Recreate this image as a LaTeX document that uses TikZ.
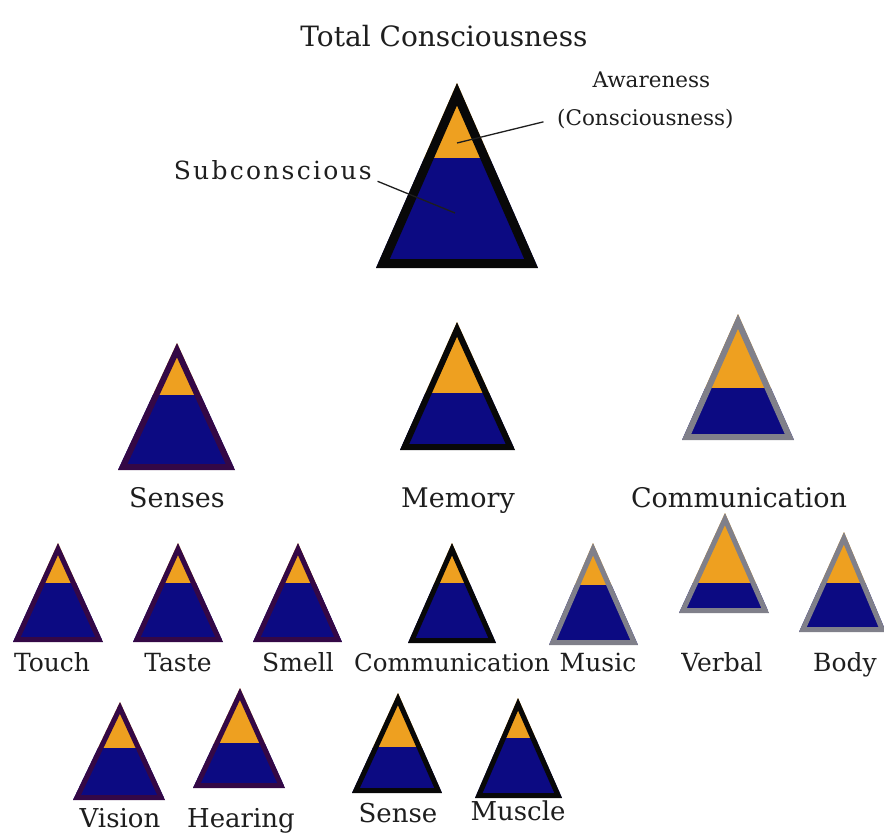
\documentclass[tikz,border=0pt]{standalone}
\usepackage{fontspec}
\setmainfont{DejaVu Serif}
\newfontfamily\spacedfont[LetterSpace=9]{DejaVu Serif}
\definecolor{navyC}{RGB}{12,10,130}
\definecolor{orangeC}{RGB}{238,160,32}
\definecolor{purpC}{RGB}{52,8,70}
\definecolor{grayC}{RGB}{128,128,138}
\definecolor{blackC}{RGB}{8,8,8}
\definecolor{textC}{RGB}{30,30,30}
% #1 apex x, #2 apex y, #3 base y, #4 left x, #5 right x, #6 split y, #7 border colour, #8 border width
\newcommand{\pyr}[8]{%
  \begin{scope}
    \clip (#4,#3) -- (#1,#2) -- (#5,#3) -- cycle;
    \fill[orangeC] (#4,#2) rectangle (#5,#6);
    \fill[navyC] (#4,#6) rectangle (#5,#3);
    \draw[#7, line width=2*#8, line join=miter] (#4,#3) -- (#1,#2) -- (#5,#3) -- cycle;
  \end{scope}}
\tikzset{
  lbl/.style={font=\fontsize{#1}{#1}\selectfont, text=textC, inner sep=0pt, anchor=base},
  lbl/.default=26,
  ttl/.style={font=\fontsize{28}{32}\selectfont, text=textC, inner sep=0pt, anchor=base},
  note/.style={font=\fontsize{21.5}{25}\selectfont, text=textC, inner sep=0pt},
  leader/.style={draw=textC, line width=1.3pt}
}
\begin{document}
\begin{tikzpicture}[x=1pt,y=-1pt]
\useasboundingbox (0,0) rectangle (884,836);
\fill[white] (0,0) rectangle (884,836);
% top pyramid
\pyr{457}{83}{268}{376}{538}{158}{blackC}{9}
\node[ttl] (title) at (444,46) {Total Consciousness};
\node[note, anchor=base west] (cons) at (557,125) {(Consciousness)};
\node[note, anchor=base] (aw) at ([xshift=6pt]cons.center |- 0,87) {Awareness};
\node[note, anchor=base east, font=\fontsize{25}{29}\spacedfont] (sub) at (372,179) {Subconscious};
\coordinate (awpt) at (457,143);
\coordinate (subpt) at (455,213);
\draw[leader, shorten <=14pt] (cons.west) -- (awpt);
\draw[leader, shorten <=6pt] (sub.base east) -- (subpt);
% row 1
\pyr{177}{343}{470}{118}{235}{395}{purpC}{6}
\pyr{457}{322}{450}{400}{515}{393}{blackC}{6}
\pyr{738}{314}{440}{682}{794}{388}{grayC}{6}
\node[lbl=27] (senses) at (177,507) {Senses};
\node[lbl=27] (memory) at (458,507) {Memory};
\node[lbl=27] (comm1) at (739,507) {Communication};
% row 2
\pyr{58}{543}{642}{13}{103}{583}{purpC}{5}
\pyr{178}{543}{642}{133}{223}{583}{purpC}{5}
\pyr{298}{543}{642}{253}{342}{583}{purpC}{5}
\pyr{452}{543}{643}{408}{496}{583}{blackC}{5}
\pyr{593}{543}{645}{549}{638}{585}{grayC}{5}
\pyr{725}{513}{613}{679}{769}{583}{grayC}{5}
\pyr{844}{532}{632}{799}{886}{583}{grayC}{5}
\node[lbl=25] (touch) at (52,671) {Touch};
\node[lbl=25] (taste) at (178,671) {Taste};
\node[lbl=25] (smell) at (298,671) {Smell};
\node[lbl=24.5] (comm2) at (452,671) {Communication};
\node[lbl=25] (music) at (598,671) {Music};
\node[lbl=25] (verbal) at (722,671) {Verbal};
\node[lbl=25] (body) at (845,671) {Body};
% row 3
\pyr{120}{702}{800}{73}{165}{748}{purpC}{5}
\pyr{240}{688}{788}{193}{285}{743}{purpC}{5}
\pyr{398}{693}{793}{352}{442}{747}{blackC}{5}
\pyr{518}{698}{798}{475}{562}{738}{blackC}{5}
\node[lbl] (vision) at (120,827) {Vision};
\node[lbl] (hearing) at (241,827) {Hearing};
\node[lbl] (sense) at (398,822) {Sense};
\node[lbl] (muscle) at (518,820) {Muscle};
\end{tikzpicture}
\end{document}
